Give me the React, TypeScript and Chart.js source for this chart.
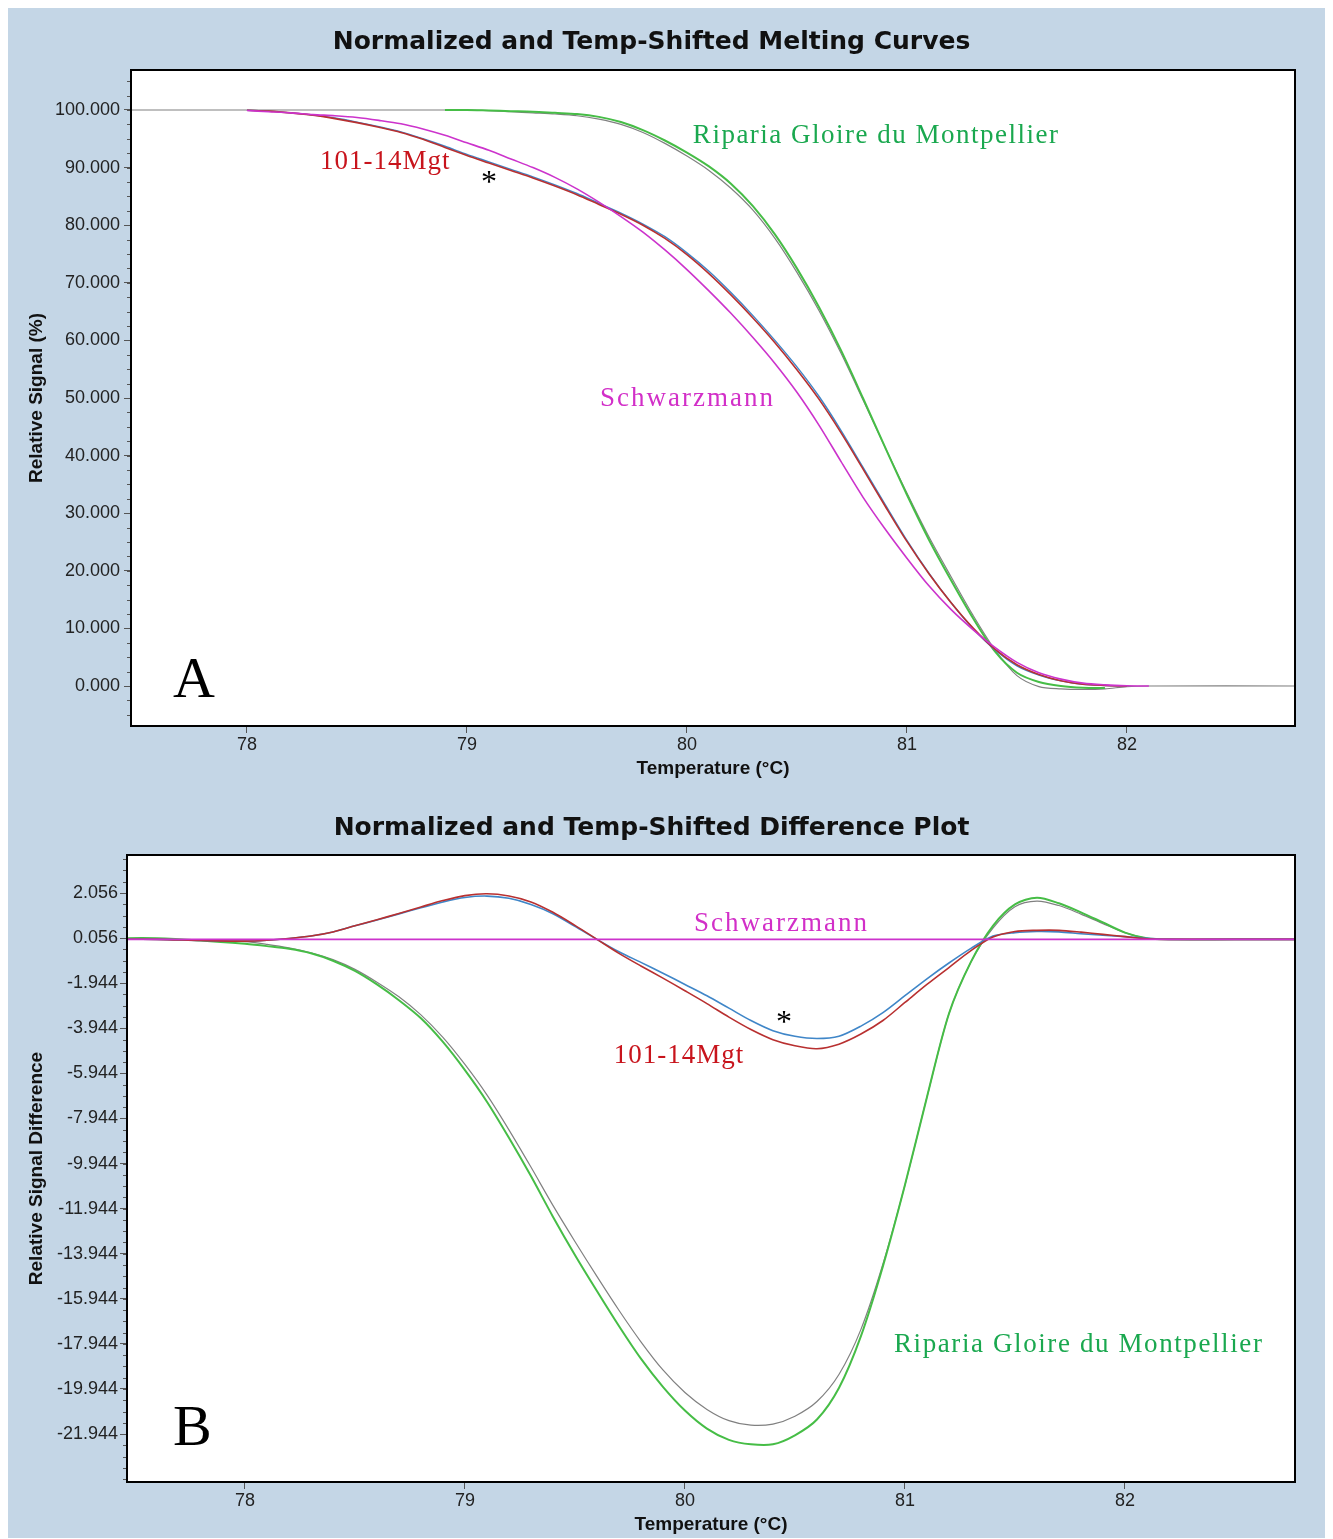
import React, { useEffect, useRef } from 'react';
import { Chart, registerables } from 'chart.js';

Chart.register(...registerables);

// ---------------- Panel A: normalized melting curves ----------------
const tempsA = [77.4, 78.0, 78.1, 78.2, 78.3, 78.4, 78.5, 78.6, 78.7, 78.8, 78.9, 79.0, 79.1, 79.2, 79.3, 79.4, 79.5, 79.6, 79.7, 79.8, 79.9, 80.0, 80.1, 80.2, 80.3, 80.4, 80.5, 80.6, 80.7, 80.8, 80.9, 81.0, 81.1, 81.2, 81.3, 81.4, 81.5, 81.6, 81.7, 81.8, 81.9, 82.0, 82.1, 82.8];

const red101A = [null, 99.95, 99.8, 99.5, 99.1, 98.5, 97.8, 97.0, 96.1, 94.9, 93.5, 92.1, 90.8, 89.5, 88.2, 86.8, 85.3, 83.6, 81.9, 80.0, 77.7, 74.9, 71.6, 67.9, 63.9, 59.6, 54.9, 49.8, 44.0, 37.7, 31.3, 25.1, 19.5, 14.5, 10.1, 6.4, 3.7, 2.0, 0.9, 0.3, 0.1, 0.0, null, null];

const blue101A = [null, 99.95, 99.8, 99.5, 99.1, 98.6, 97.9, 97.1, 96.2, 95.0, 93.7, 92.3, 91.0, 89.7, 88.4, 87.0, 85.5, 83.8, 82.1, 80.2, 78.0, 75.2, 72.0, 68.3, 64.3, 60.0, 55.4, 50.3, 44.4, 38.0, 31.6, 25.3, 19.6, 14.5, 10.0, 6.3, 3.5, 1.9, 0.9, 0.3, 0.1, 0.0, null, null];

const schwarzA = [null, 99.9, 99.7, 99.5, 99.2, 99.0, 98.7, 98.2, 97.6, 96.7, 95.6, 94.3, 93.0, 91.5, 90.0, 88.3, 86.3, 84.0, 81.5, 78.8, 75.7, 72.3, 68.6, 64.7, 60.5, 56.0, 51.0, 45.3, 39.0, 32.8, 27.3, 22.2, 17.4, 13.3, 9.8, 6.7, 4.1, 2.3, 1.2, 0.5, 0.2, 0.05, 0.0, null];

const ripariaA = [null, null, null, null, null, null, null, null, null, null, 100.0, 100.0, 99.9, 99.8, 99.7, 99.5, 99.3, 98.8, 97.9, 96.5, 94.7, 92.6, 90.2, 87.2, 83.3, 78.4, 72.5, 65.8, 58.3, 50.0, 41.5, 33.2, 25.4, 18.4, 11.8, 6.0, 2.3, 0.7, 0.0, -0.3, -0.35, null, null, null];

const ripariaRefA = [100, 100, 100, 100, 100, 100, 100, 100, 100, 100, 100, 100.0, 99.9, 99.7, 99.5, 99.3, 99.0, 98.4, 97.5, 96.1, 94.2, 92.0, 89.5, 86.4, 82.6, 77.7, 71.8, 65.2, 57.8, 49.7, 41.5, 33.5, 25.9, 19.0, 12.3, 6.3, 1.8, -0.1, -0.5, -0.6, -0.5, -0.1, 0.0, 0.0];

const yTicksA = [0, 10, 20, 30, 40, 50, 60, 70, 80, 90, 100];

// ---------------- Panel B: difference plot ----------------
const tempsB = [77.4, 77.6, 77.8, 78.0, 78.1, 78.2, 78.3, 78.4, 78.5, 78.6, 78.7, 78.8, 78.9, 79.0, 79.1, 79.2, 79.3, 79.4, 79.5, 79.6, 79.7, 79.8, 79.9, 80.0, 80.1, 80.2, 80.3, 80.4, 80.5, 80.6, 80.7, 80.8, 80.9, 81.0, 81.1, 81.2, 81.3, 81.4, 81.5, 81.6, 81.7, 81.8, 81.9, 82.0, 82.1, 82.2, 82.5, 82.8];

const red101B = [0.0, 0.0, -0.05, -0.08, -0.04, 0.04, 0.15, 0.33, 0.6, 0.87, 1.15, 1.44, 1.72, 1.94, 2.02, 1.92, 1.66, 1.2, 0.62, 0.0, -0.62, -1.18, -1.72, -2.28, -2.85, -3.45, -4.0, -4.45, -4.72, -4.85, -4.65, -4.2, -3.6, -2.8, -2.0, -1.25, -0.5, 0.1, 0.35, 0.4, 0.4, 0.32, 0.22, 0.12, 0.03, 0.0, 0.0, 0.0];

const blue101B = [0.0, 0.0, -0.05, -0.08, -0.04, 0.04, 0.15, 0.33, 0.6, 0.86, 1.13, 1.4, 1.66, 1.86, 1.92, 1.82, 1.55, 1.14, 0.58, 0.0, -0.55, -1.02, -1.5, -2.0, -2.5, -3.05, -3.6, -4.05, -4.3, -4.4, -4.3, -3.85, -3.25, -2.5, -1.75, -1.05, -0.4, 0.15, 0.3, 0.35, 0.33, 0.25, 0.18, 0.12, 0.05, 0.0, 0.0, 0.0];

const schwarzTempsB = [77.4, 82.8];
const schwarzB = [0, 0];

const ripariaB = [0.05, 0.05, -0.05, -0.2, -0.3, -0.42, -0.62, -0.95, -1.4, -2.0, -2.7, -3.5, -4.55, -5.8, -7.2, -8.8, -10.5, -12.3, -14.0, -15.6, -17.15, -18.6, -19.85, -20.9, -21.7, -22.2, -22.4, -22.4, -22.0, -21.3, -19.9, -17.6, -14.5, -10.9, -7.0, -3.3, -1.0, 0.6, 1.55, 1.85, 1.6, 1.2, 0.75, 0.3, 0.05, 0.0, 0.0, 0.0];

const ripariaRefB = [0.0, 0.0, -0.02, -0.1, -0.22, -0.38, -0.6, -0.9, -1.33, -1.9, -2.55, -3.35, -4.35, -5.55, -6.9, -8.45, -10.1, -11.8, -13.4, -14.95, -16.45, -17.85, -19.1, -20.1, -20.85, -21.35, -21.55, -21.5, -21.15, -20.5, -19.3, -17.3, -14.4, -10.9, -7.0, -3.3, -1.0, 0.5, 1.45, 1.7, 1.5, 1.12, 0.7, 0.3, 0.05, 0.0, 0.0, 0.0];

const yTicksB = [2.056, 0.056, -1.944, -3.944, -5.944, -7.944, -9.944, -11.944, -13.944, -15.944, -17.944, -19.944, -21.944];

const xTicks = [78, 79, 80, 81, 82];

// ---------------- colours & annotations ----------------
const C_GREEN = '#46bd46';
const C_GRAY = '#808080';
const C_RED = '#b83030';
const C_BLUE = '#3f86c8';
const C_MAGENTA = '#cc33cc';
const T_GREEN = '#1aa84f';
const T_RED = '#c8141c';
const T_MAGENTA = '#d22fc8';

const notesA = [
  { text: 'Riparia Gloire du Montpellier', x: 80.027, y: 94.27, color: T_GREEN, size: 27, spacing: '1.5px' },
  { text: '101-14Mgt', x: 78.332, y: 89.76, color: T_RED, size: 27, spacing: '1px' },
  { text: 'Schwarzmann', x: 79.605, y: 48.61, color: T_MAGENTA, size: 27, spacing: '2px' },
  { text: '*', x: 79.1, y: 85.76, color: '#000', size: 32, spacing: '0px', align: 'center' },
  { text: 'A', x: 77.664, y: -1.91, color: '#000', size: 58, spacing: '0px' },
];

const notesB = [
  { text: 'Schwarzmann', x: 80.041, y: 0.367, color: T_MAGENTA, size: 27, spacing: '2px' },
  { text: '101-14Mgt', x: 79.677, y: -5.49, color: T_RED, size: 27, spacing: '1px' },
  { text: '*', x: 80.45, y: -4.114, color: '#000', size: 32, spacing: '0px', align: 'center' },
  { text: 'Riparia Gloire du Montpellier', x: 80.95, y: -18.31, color: T_GREEN, size: 27, spacing: '1.6px' },
  { text: 'B', x: 77.673, y: -22.44, color: '#000', size: 58, spacing: '0px' },
];

function minorList(start: number, end: number, step: number) {
  const out: number[] = [];
  for (let v = start; v <= end + 1e-9; v += step) out.push(Number(v.toFixed(3)));
  return out;
}

const decorPlugin = {
  id: 'panelDecor',
  beforeDraw(chart: any) {
    const { ctx, chartArea: a } = chart;
    ctx.save();
    ctx.fillStyle = '#ffffff';
    ctx.fillRect(a.left, a.top, a.right - a.left, a.bottom - a.top);
    ctx.restore();
  },
  afterDraw(chart: any, _args: any, opts: any) {
    const { ctx, chartArea: a, scales } = chart;
    const ys = scales.y;
    const xs = scales.x;
    ctx.save();
    ctx.strokeStyle = '#555';
    ctx.lineWidth = 1;
    for (const v of opts.minorTicks || []) {
      const py = Math.round(ys.getPixelForValue(v)) + 0.5;
      if (py < a.top || py > a.bottom) continue;
      ctx.beginPath();
      ctx.moveTo(a.left - 4, py);
      ctx.lineTo(a.left, py);
      ctx.stroke();
    }
    ctx.strokeStyle = '#000';
    ctx.lineWidth = 2;
    ctx.strokeRect(a.left, a.top, a.right - a.left, a.bottom - a.top);
    for (const n of opts.notes || []) {
      ctx.font = `${n.size}px "Liberation Serif", "Times New Roman", serif`;
      ctx.fillStyle = n.color;
      (ctx as any).letterSpacing = n.spacing || '0px';
      ctx.textAlign = n.align || 'left';
      ctx.textBaseline = 'alphabetic';
      ctx.fillText(n.text, xs.getPixelForValue(n.x), ys.getPixelForValue(n.y));
    }
    ctx.restore();
  },
};

function pts(xs: number[], ys: (number | null)[]) {
  const out: { x: number; y: number }[] = [];
  xs.forEach((x, i) => {
    const y = ys[i];
    if (y !== null && y !== undefined) out.push({ x, y });
  });
  return out;
}

function line(label: string, data: any[], color: string, width: number) {
  return {
    label,
    data,
    borderColor: color,
    backgroundColor: color,
    borderWidth: width,
    pointRadius: 0,
    fill: false,
    tension: 0.3,
  };
}

const tickFont = { family: '"Liberation Sans", Arial, sans-serif', size: 18 };
const axisTitleFont = { family: '"Liberation Sans", Arial, sans-serif', size: 19, weight: 'bold' };
const titleFont = { family: '"DejaVu Sans", Verdana, sans-serif', size: 25, weight: 'bold' };

function makeConfig(p: any) {
  return {
    type: 'line',
    data: { datasets: p.datasets },
    plugins: [decorPlugin],
    options: {
      responsive: false,
      maintainAspectRatio: false,
      animation: false,
      layout: { padding: { left: 0, right: 35, top: 0, bottom: 0 } },
      plugins: {
        legend: { display: false },
        tooltip: { enabled: false },
        title: {
          display: true,
          text: p.title,
          color: '#111',
          font: titleFont,
          padding: { top: p.titlePadTop, bottom: p.titlePadBottom },
        },
        panelDecor: { minorTicks: p.minorTicks, notes: p.notes },
      },
      scales: {
        x: {
          type: 'linear',
          min: p.xMin,
          max: p.xMax,
          afterBuildTicks: (s: any) => {
            s.ticks = xTicks.map((v) => ({ value: v }));
          },
          afterFit: (s: any) => {
            s.height = p.xAxisHeight;
          },
          border: { display: false },
          grid: { drawOnChartArea: false, drawTicks: true, tickLength: 7, color: '#555', tickColor: '#555' },
          ticks: {
            font: tickFont,
            color: '#222',
            padding: 1,
            autoSkip: false,
            maxRotation: 0,
            callback: (v: any) => String(v),
          },
          title: {
            display: true,
            text: 'Temperature (°C)',
            color: '#111',
            font: axisTitleFont,
            padding: { top: 0, bottom: p.xTitlePadBottom },
          },
        },
        y: {
          type: 'linear',
          min: p.yMin,
          max: p.yMax,
          afterBuildTicks: (s: any) => {
            s.ticks = p.yTicks.map((v: number) => ({ value: v }));
          },
          afterFit: (s: any) => {
            s.width = p.yAxisWidth;
          },
          border: { display: false },
          grid: { drawOnChartArea: false, drawTicks: true, tickLength: 7, color: '#555', tickColor: '#555' },
          ticks: {
            font: tickFont,
            color: '#222',
            padding: p.yTickPad,
            autoSkip: false,
            callback: (v: any) => Number(v).toFixed(3),
          },
          title: {
            display: true,
            text: p.yTitle,
            color: '#111',
            font: axisTitleFont,
            padding: { top: 17.6, bottom: 0 },
          },
        },
      },
    },
  };
}

function ChartCanvas({ config, width, height }: { config: any; width: number; height: number }) {
  const ref = useRef<HTMLCanvasElement>(null);
  useEffect(() => {
    const chart = new Chart(ref.current as HTMLCanvasElement, config);
    return () => chart.destroy();
  }, []);
  return <canvas ref={ref} width={width} height={height} style={{ display: 'block', width, height }} />;
}

export default function App() {
  const configA = makeConfig({
    title: 'Normalized and Temp-Shifted Melting Curves',
    titlePadTop: 19,
    titlePadBottom: 13,
    xMin: 77.473,
    xMax: 82.764,
    yMin: -6.94,
    yMax: 106.94,
    yTicks: yTicksA,
    yTitle: 'Relative Signal (%)',
    xAxisHeight: 72,
    xTitlePadBottom: 17.6,
    yAxisWidth: 123,
    yTickPad: 4,
    minorTicks: minorList(-5, 105, 2.5),
    notes: notesA,
    datasets: [
      line('Schwarzmann', pts(tempsA, schwarzA), C_MAGENTA, 1.6),
      line('101-14Mgt', pts(tempsA, red101A), C_RED, 1.6),
      line('101-14Mgt (2)', pts(tempsA, blue101A), C_BLUE, 1.4),
      line('Riparia Gloire du Montpellier', pts(tempsA, ripariaA), C_GREEN, 2),
      line('Riparia Gloire du Montpellier (ref)', pts(tempsA, ripariaRefA), C_GRAY, 1.2),
    ],
  });

  const configB = makeConfig({
    title: 'Normalized and Temp-Shifted Difference Plot',
    titlePadTop: 15,
    titlePadBottom: 12,
    xMin: 77.464,
    xMax: 82.773,
    yMin: -24.07,
    yMax: 3.742,
    yTicks: yTicksB,
    yTitle: 'Relative Signal Difference',
    xAxisHeight: 56,
    xTitlePadBottom: 1.6,
    yAxisWidth: 119,
    yTickPad: 2,
    minorTicks: minorList(-23.944, 3.556, 0.5),
    notes: notesB,
    datasets: [
      line('Schwarzmann', pts(schwarzTempsB, schwarzB), C_MAGENTA, 1.8),
      line('101-14Mgt', pts(tempsB, red101B), C_RED, 1.6),
      line('101-14Mgt (2)', pts(tempsB, blue101B), C_BLUE, 1.6),
      line('Riparia Gloire du Montpellier', pts(tempsB, ripariaB), C_GREEN, 2),
      line('Riparia Gloire du Montpellier (ref)', pts(tempsB, ripariaRefB), C_GRAY, 1.2),
    ],
  });

  return (
    <div style={{ width: 1322, height: 1530, background: '#c4d6e6', overflow: 'hidden' }}>
      <ChartCanvas config={configA} width={1322} height={790} />
      <ChartCanvas config={configB} width={1322} height={740} />
    </div>
  );
}
